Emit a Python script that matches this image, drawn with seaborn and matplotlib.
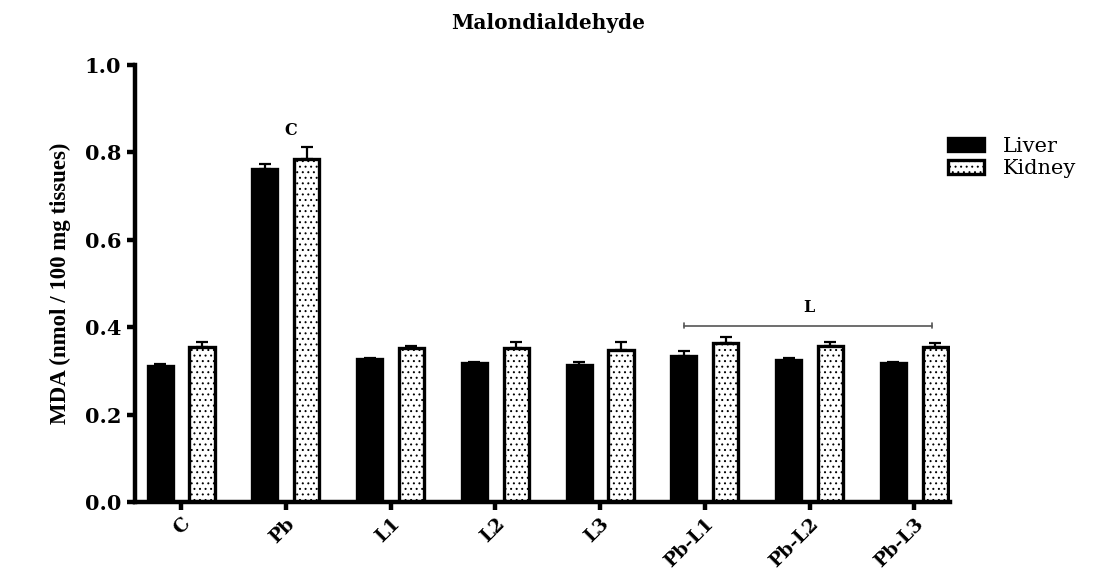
import numpy as np
import pandas as pd
import matplotlib
matplotlib.use("Agg")
import matplotlib.pyplot as plt
import seaborn as sns

# Group labels and measured MDA means / SEM for each tissue
groups = ["C", "Pb", "L1", "L2", "L3", "Pb-L1", "Pb-L2", "Pb-L3"]
liver_mean = [0.312, 0.761, 0.327, 0.317, 0.314, 0.333, 0.325, 0.319]
liver_sem = [0.003, 0.012, 0.002, 0.003, 0.006, 0.013, 0.005, 0.002]
kidney_mean = [0.355, 0.785, 0.353, 0.352, 0.348, 0.363, 0.358, 0.354]
kidney_sem = [0.010, 0.027, 0.005, 0.013, 0.018, 0.015, 0.009, 0.010]
tissues = ["Liver", "Kidney"]
y_ticks = [0.0, 0.2, 0.4, 0.6, 0.8, 1.0]

df = pd.DataFrame({
    "group": groups * 2,
    "tissue": ["Liver"] * len(groups) + ["Kidney"] * len(groups),
    "mda": liver_mean + kidney_mean,
})

sns.set_theme(style="ticks")
plt.rcParams["font.family"] = ["DejaVu Serif", "Liberation Serif"]
plt.rcParams["hatch.linewidth"] = 0.7
for key in ["text.color", "axes.labelcolor", "xtick.color", "ytick.color",
            "axes.edgecolor"]:
    plt.rcParams[key] = "black"

fig = plt.figure(figsize=(10.99, 5.76), dpi=100)
ax = fig.add_axes([0.1228, 0.1285, 0.7415, 0.7587])

sns.barplot(
    data=df, x="group", y="mda", hue="tissue", order=groups, hue_order=tissues,
    palette={"Liver": "black", "Kidney": "white"}, edgecolor="black",
    linewidth=2.4, gap=0.4, errorbar=None, legend=False, ax=ax,
)

# Kidney bars: white with a dotted fill
for bar in ax.containers[1]:
    bar.set_hatch("...")
    bar.set_edgecolor("black")

# Upward-only SEM error bars placed at each bar's centre
for cont, sem in zip(ax.containers, [liver_sem, kidney_sem]):
    xs = [b.get_x() + b.get_width() / 2 for b in cont]
    ys = [b.get_height() for b in cont]
    ax.errorbar(xs, ys, yerr=[np.zeros(len(sem)), sem], fmt="none",
                ecolor="black", elinewidth=1.6, capsize=4.5, capthick=1.6,
                zorder=1)

ax.set_xlim(-0.44, 7.34)
ax.set_ylim(0, 1.0)
ax.set_yticks(y_ticks)
ax.set_yticklabels([f"{t:.1f}" for t in y_ticks], fontsize=15, fontweight="bold")
ax.set_xticks(range(len(groups)))
ax.set_xticklabels(groups, rotation=45, ha="right", rotation_mode="anchor",
                   fontsize=13.5, fontweight="bold")
ax.tick_params(axis="x", pad=3)
ax.set_xlabel("")
ax.set_ylabel("MDA (nmol / 100 mg tissues)", fontsize=16.5, fontweight="bold",
              family=["Liberation Serif", "DejaVu Serif"], labelpad=10)

for side in ["top", "right"]:
    ax.spines[side].set_visible(False)
for side in ["left", "bottom"]:
    ax.spines[side].set_linewidth(3.2)
ax.tick_params(axis="both", width=3.2, length=6, direction="out")
ax.tick_params(axis="y", pad=4)

# Significance annotations
ax.text(1.05, 0.83, "C", ha="center", va="bottom", fontsize=11.5, fontweight="bold")
ax.plot([4.80, 7.17], [0.403, 0.403], color="#555555", lw=1.2)
ax.plot([4.80, 4.80], [0.397, 0.409], color="#555555", lw=1.2)
ax.plot([7.17, 7.17], [0.397, 0.409], color="#555555", lw=1.2)
ax.text(5.99, 0.425, "L", ha="center", va="bottom", fontsize=11.5, fontweight="bold")

fig.suptitle("Malondialdehyde", x=0.499, y=0.978, fontsize=14.5, fontweight="bold")

handles = [ax.containers[0][0], ax.containers[1][0]]
leg = fig.legend(handles, tissues, loc="upper left", bbox_to_anchor=(0.853, 0.78),
                 frameon=False, fontsize=15, handlelength=1.75, handleheight=0.6,
                 labelspacing=0.15, handletextpad=0.9, borderpad=0)

fig.savefig("out.png", dpi=100)
